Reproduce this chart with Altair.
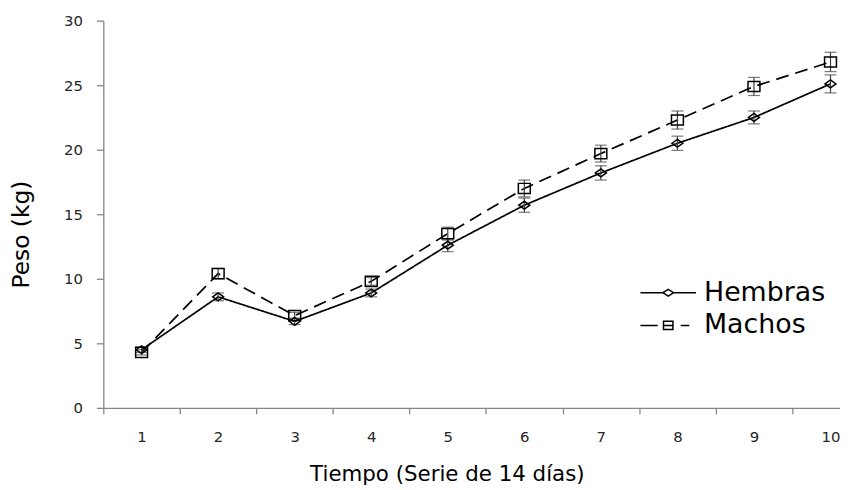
import altair as alt
import pandas as pd

tiempo = [1, 2, 3, 4, 5, 6, 7, 8, 9, 10]
hembras = [4.5, 8.6, 6.7, 8.9, 12.6, 15.7, 18.2, 20.5, 22.5, 25.1]
hembras_err = [0.2, 0.3, 0.25, 0.3, 0.5, 0.55, 0.55, 0.55, 0.5, 0.7]
machos = [4.3, 10.4, 7.15, 9.8, 13.5, 17.0, 19.7, 22.3, 24.9, 26.8]
machos_err = [0.2, 0.4, 0.25, 0.3, 0.5, 0.65, 0.65, 0.7, 0.7, 0.75]
series = ["Hembras", "Machos"]
y_ticks = [0, 5, 10, 15, 20, 25, 30]

rows = []
for name, vals, errs in [("Hembras", hembras, hembras_err), ("Machos", machos, machos_err)]:
    for t, v, e in zip(tiempo, vals, errs):
        rows.append({"t": t, "serie": name, "peso": v, "lo": v - e, "hi": v + e})
df = pd.DataFrame(rows)

# tick marks sit between categories; each label is shifted half a band to the right
x_ticks = [t - 0.5 for t in tiempo]

x_enc = alt.X(
    "t:Q",
    scale=alt.Scale(domain=[0.5, 10.124], nice=False, zero=False),
    axis=alt.Axis(
        values=x_ticks,
        labelExpr="format(datum.value + 0.5, 'd')",
        labelOffset=38.5,
        tickSize=6,
        labelPadding=16,
        labelFlush=False,
        labelOverlap=False,
        labelBound=False,
        title="Tiempo (Serie de 14 días)",
        titleX=346,
        titleY=73,
        titleBaseline="alphabetic",
        titleFont="DejaVu Sans",
        titleFontSize=21.5,
        titleFontWeight="normal",
        titleColor="#000000",
        grid=False,
    ),
)
y_enc = alt.Y(
    "peso:Q",
    scale=alt.Scale(domain=[0, 30], nice=False),
    axis=alt.Axis(
        values=y_ticks,
        tickSize=7,
        labelPadding=14,
        title="Peso (kg)",
        titleX=-82,
        titleY=215,
        titleAlign="center",
        titleBaseline="middle",
        titleFont="DejaVu Sans",
        titleFontSize=23.5,
        titleFontWeight="normal",
        titleColor="#000000",
        grid=False,
    ),
)

base = alt.Chart(df)

dash_scale = alt.Scale(domain=series, range=[[1, 0], [13, 7]])
lines = base.mark_line(color="black", strokeWidth=1.7).encode(
    x=x_enc,
    y=y_enc,
    strokeDash=alt.StrokeDash("serie:N", scale=dash_scale, legend=None),
    detail="serie:N",
)

errbars = base.mark_errorbar(
    ticks={"size": 12}, color="#404040", thickness=1.2
).encode(
    x=alt.X("t:Q", title="Tiempo (Serie de 14 días)"),
    y=alt.Y("lo:Q", title="Peso (kg)"),
    y2="hi:Q",
    detail="serie:N",
)

marker_scale = alt.Scale(
    domain=series,
    range=["M-1,0L0,-0.72L1,0L0,0.72Z", "M-1,-0.85L1,-0.85L1,0.85L-1,0.85Z"],
)
marker_size = alt.Scale(domain=series, range=[121, 144])
points = base.mark_point(filled=False, color="black", strokeWidth=1.5, opacity=1).encode(
    x=alt.X("t:Q", title="Tiempo (Serie de 14 días)"),
    y=alt.Y("peso:Q", title="Peso (kg)"),
    shape=alt.Shape("serie:N", scale=marker_scale, legend=None),
    size=alt.Size("serie:N", scale=marker_size, legend=None),
)

legend_shapes = alt.Scale(
    domain=series,
    range=[
        "M-2,0L-0.38,0M0.38,0L2,0M-0.38,0L0,-0.24L0.38,0L0,0.24Z",
        "M-2,0L-0.76,0M-0.34,-0.3L0.34,-0.3L0.34,0.3L-0.34,0.3ZM-0.34,0L0.34,0M0.9,0L1.52,0",
    ],
)
legend_layer = base.mark_point(opacity=0, filled=False).encode(
    x=alt.X("t:Q", title="Tiempo (Serie de 14 días)"),
    y=alt.Y("peso:Q", title="Peso (kg)"),
    shape=alt.Shape(
        "serie:N",
        scale=legend_shapes,
        legend=alt.Legend(
            title=None,
            orient="none",
            legendX=554,
            legendY=259,
            padding=0,
            symbolSize=784,
            symbolStrokeWidth=1.5,
            symbolStrokeColor="black",
            symbolFillColor="transparent",
            symbolOpacity=1,
            labelFont="DejaVu Sans",
            labelFontSize=27,
            labelColor="#000000",
            labelOffset=21,
            labelLimit=300,
            rowPadding=5,
        ),
    ),
)

chart = (
    alt.layer(lines, errbars, points, legend_layer)
    .resolve_scale(shape="independent", size="independent")
    .properties(
        width=742,
        height=390,
        autosize=alt.AutoSizeParams(type="none"),
        padding={"left": 96, "top": 11, "right": 0, "bottom": 80},
    )
    .configure_view(stroke=None)
    .configure_axis(
        domainColor="#868686",
        domainWidth=1.3,
        tickColor="#868686",
        tickWidth=1.3,
        labelFont="DejaVu Sans",
        labelFontSize=15,
        labelColor="#262626",
    )
)

chart.save("out.html", embed_options={"renderer": "svg", "actions": False})
